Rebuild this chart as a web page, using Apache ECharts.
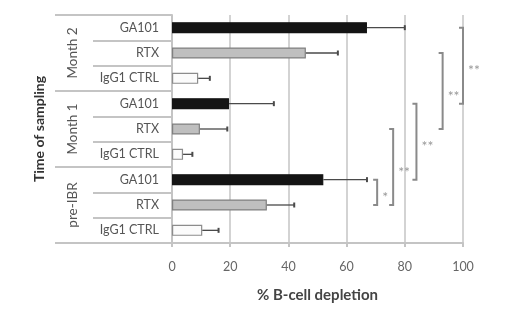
<!DOCTYPE html>
<html>
<head>
<meta charset="utf-8">
<script src="https://cdn.jsdelivr.net/npm/echarts@6/dist/echarts.min.js"></script>
<style>html,body{margin:0;padding:0;background:#fff}#c{width:520px;height:323px}</style>
</head>
<body>
<div id="c"></div>
<script>
var categories = ['GA101','RTX','IgG1 CTRL','GA101','RTX','IgG1 CTRL','GA101','RTX','IgG1 CTRL'];
var groups = ['Month 2','Month 1','pre-IBR'];
var means = [67, 46, 9, 19.6, 9.6, 3.8, 52, 32.6, 10.4];
var errUpper = [80, 57, 13, 35, 19, 7, 67, 42, 16];
var xTicks = [0, 20, 40, 60, 80, 100];
// significance brackets: [x position, from category index, to category index, label]
var brackets = [
  [100, 0, 3, '**'],
  [93, 1, 4, '**'],
  [84, 3, 6, '**'],
  [76, 4, 7, '**'],
  [70.5, 6, 7, '*']
];

var fills = ['#141414','#bfbfbf','#fbfbfb'];
var borders = ['#141414','#808080','#8c8c8c'];
var FONT = 'Lato';

var chart = echarts.init(document.getElementById('c'));
var lineCol = '#c4c4c4';

chart.setOption({
  animation: false,
  grid: {left: 172, right: 57, top: 15, bottom: 80},
  xAxis: {
    type: 'value', min: xTicks[0], max: xTicks[xTicks.length - 1], interval: xTicks[1] - xTicks[0],
    axisLine: {show: true, lineStyle: {color: lineCol, width: 2}},
    axisTick: {show: true, length: 4, lineStyle: {color: lineCol, width: 2}},
    splitLine: {show: true, lineStyle: {color: lineCol, width: 1.5}},
    axisLabel: {color: '#666', fontSize: 12.5, fontFamily: FONT, margin: 17},
    name: '% B-cell depletion', nameLocation: 'middle', nameGap: 45,
    nameTextStyle: {color: '#444', fontSize: 15, fontWeight: 'bold', fontFamily: FONT}
  },
  yAxis: [{
    type: 'category', inverse: true, data: categories, position: 'left',
    axisLine: {show: true, lineStyle: {color: lineCol, width: 2}},
    axisTick: {show: true, length: 79, lineStyle: {color: lineCol, width: 2}},
    axisLabel: {color: '#555', fontSize: 12.5, fontFamily: FONT, margin: 13}
  }, {
    type: 'category', inverse: true, data: groups, position: 'left',
    axisLine: {show: false},
    axisTick: {show: true, length: 117, lineStyle: {color: lineCol, width: 2}},
    axisLabel: {color: '#555', fontSize: 13.5, fontFamily: FONT, rotate: 90, margin: 99, align: 'center', verticalAlign: 'middle'},
    name: 'Time of sampling', nameLocation: 'middle', nameGap: 126, nameRotate: 90,
    nameTextStyle: {color: '#333', fontSize: 14, fontWeight: 'bold', fontFamily: FONT}
  }],
  series: [{
    type: 'bar', yAxisIndex: 0, barWidth: 11,
    data: means.map(function (v, i) {
      return {value: v, itemStyle: {color: fills[i % 3], borderColor: borders[i % 3], borderWidth: 1.2}};
    })
  }, {
    type: 'custom', yAxisIndex: 0, z: 3,
    data: means.map(function (v, i) { return [v, errUpper[i], i]; }),
    renderItem: function (params, api) {
      var a = api.coord([api.value(0), api.value(2)]);
      var b = api.coord([api.value(1), api.value(2)]);
      var st = {stroke: '#4a4a4a', lineWidth: 1.3};
      return {type: 'group', children: [
        {type: 'line', shape: {x1: a[0], y1: a[1], x2: b[0], y2: b[1]}, style: st},
        {type: 'line', shape: {x1: b[0], y1: b[1] - 2.5, x2: b[0], y2: b[1] + 2.5}, style: {stroke: '#4a4a4a', lineWidth: 2}}
      ]};
    }
  }, {
    type: 'custom', yAxisIndex: 0, z: 4, clip: false,
    data: brackets,
    renderItem: function (params, api) {
      var p1 = api.coord([api.value(0), api.value(1)]);
      var p2 = api.coord([api.value(0), api.value(2)]);
      var x = p1[0];
      return {type: 'group', children: [
        {type: 'polyline', shape: {points: [[x - 4, p1[1]], [x, p1[1]], [x, p2[1]], [x - 4, p2[1]]]}, style: {stroke: '#8a8a8a', lineWidth: 2, fill: null}},
        {type: 'text', style: {text: brackets[params.dataIndex][3], x: x + 5, y: (p1[1] + p2[1]) / 2 + 5, fill: '#999', fontSize: 14, fontFamily: FONT, align: 'left', verticalAlign: 'middle'}}
      ]};
    }
  }]
});
</script>
</body>
</html>
